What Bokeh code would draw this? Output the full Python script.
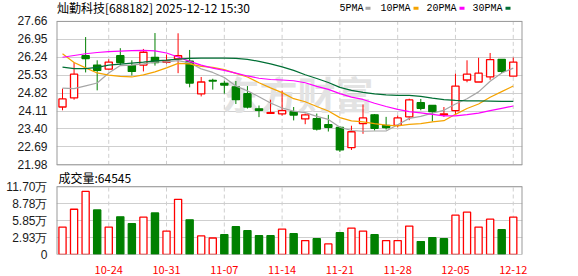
from bokeh.plotting import figure
from bokeh.models import (Range1d, LinearAxis, FixedTicker, Grid, Label,
                          BoxAnnotation, ColumnDataSource)
from bokeh.embed import file_html
from bokeh.resources import INLINE

# ---- daily data: 灿勤科技 (688182) ----
dates = ["10-20", "10-21", "10-22", "10-23", "10-24", "10-27", "10-28", "10-29", "10-30", "10-31",
         "11-03", "11-04", "11-05", "11-06", "11-07", "11-10", "11-11", "11-12", "11-13", "11-14",
         "11-17", "11-18", "11-19", "11-20", "11-21", "11-24", "11-25", "11-26", "11-27", "11-28",
         "12-01", "12-02", "12-03", "12-04", "12-05", "12-08", "12-09", "12-10", "12-11", "12-12"]

opens = [24.27, 24.63, 26.30, 25.93, 25.77, 26.30, 25.91, 25.93, 26.24, 26.04,
         26.18, 26.09, 24.79, 25.32, 25.21, 25.07, 24.80, 24.20, 24.02, 24.00,
         24.08, 23.80, 23.81, 23.57, 23.46, 22.66, 23.61, 23.96, 23.54, 23.54,
         23.88, 24.44, 24.33, 23.96, 24.13, 25.34, 25.26, 25.46, 26.16, 25.49]
closes = [24.59, 25.57, 26.19, 25.72, 26.05, 26.03, 25.68, 26.44, 26.03, 26.10,
          26.30, 25.22, 25.26, 25.30, 25.14, 24.56, 24.27, 24.14, 24.05, 24.13,
          23.95, 23.96, 23.40, 23.47, 22.57, 23.29, 23.84, 23.43, 23.46, 23.84,
          24.55, 24.22, 24.09, 24.00, 25.10, 25.57, 25.61, 26.15, 25.68, 26.05]
highs = [25.00, 26.03, 27.04, 26.12, 26.16, 26.60, 26.12, 26.57, 27.20, 26.35,
         27.19, 26.53, 25.46, 25.39, 25.31, 25.30, 25.10, 24.33, 24.56, 24.92,
         24.27, 24.01, 24.01, 23.96, 23.50, 23.53, 24.37, 23.99, 23.88, 23.93,
         24.60, 24.59, 24.33, 24.27, 25.59, 26.12, 26.22, 26.41, 26.16, 26.23]
lows = [24.14, 24.56, 25.64, 24.93, 25.74, 25.94, 25.52, 25.68, 25.91, 25.99,
        25.61, 25.05, 24.69, 24.96, 24.80, 24.39, 24.21, 23.87, 24.02, 23.93,
        23.74, 23.59, 23.34, 23.30, 22.49, 22.57, 23.21, 23.34, 23.38, 23.47,
        23.75, 24.14, 23.70, 23.88, 23.99, 25.25, 25.26, 25.35, 25.61, 25.49]

ma5 = [25.02, 25.00, 25.11, 25.22, 25.62, 25.91, 25.93, 25.98, 26.05, 26.06,
       26.11, 26.02, 25.78, 25.64, 25.44, 25.10, 24.91, 24.68, 24.43, 24.23,
       24.11, 24.05, 23.90, 23.78, 23.47, 23.34, 23.31, 23.32, 23.32, 23.57,
       23.82, 23.90, 24.03, 24.14, 24.39, 24.60, 24.87, 25.29, 25.62, 25.81]
ma10 = [26.38, 26.03, 25.82, 25.62, 25.53, 25.48, 25.46, 25.54, 25.66, 25.82,
        26.00, 25.98, 25.88, 25.84, 25.75, 25.60, 25.46, 25.23, 25.03, 24.84,
        24.60, 24.48, 24.29, 24.11, 23.85, 23.72, 23.68, 23.61, 23.55, 23.52,
        23.58, 23.61, 23.68, 23.73, 23.98, 24.21, 24.39, 24.66, 24.88, 25.10]
ma20 = [26.24, 26.31, 26.38, 26.43, 26.46, 26.48, 26.50, 26.51, 26.49, 26.41,
        26.25, 26.08, 25.93, 25.81, 25.72, 25.61, 25.50, 25.41, 25.36, 25.34,
        25.31, 25.23, 25.09, 24.97, 24.80, 24.66, 24.57, 24.42, 24.29, 24.18,
        24.09, 24.04, 23.98, 23.92, 23.92, 23.97, 24.03, 24.13, 24.22, 24.31]
ma30 = [25.85, 25.79, 25.79, 25.84, 25.93, 25.97, 26.01, 26.05, 26.10, 26.13,
        26.17, 26.20, 26.21, 26.21, 26.21, 26.20, 26.16, 26.08, 25.98, 25.86,
        25.72, 25.55, 25.40, 25.24, 25.05, 24.93, 24.85, 24.79, 24.75, 24.73,
        24.73, 24.69, 24.62, 24.56, 24.53, 24.51, 24.51, 24.50, 24.49, 24.49]

volumes = [47400, 78200, 109000, 77000, 47400, 65100, 53100, 64500, 71900, 40500,
           95300, 59900, 32000, 28500, 34200, 47900, 41100, 32500, 32500, 43900,
           36000, 24000, 27400, 18300, 37700, 45700, 40500, 34200, 24000, 24000,
           49100, 22300, 29100, 27400, 67900, 73100, 47400, 61100, 42800, 64545]

price_tick_labels = ["21.98", "22.69", "23.40", "24.11", "24.82", "25.53", "26.24", "26.95", "27.66"]
vol_tick_labels = ["0", "2.93万", "5.85万", "8.78万", "11.70万"]
vol_axis_max = 117000
date_tick_labels = ["10-24", "10-31", "11-07", "11-14", "11-21", "11-28", "12-05", "12-12"]

ma_names = ["5PMA", "10PMA", "20PMA", "30PMA"]

# ---- styling ----
RED = "#ff0000"
GREEN = "#008000"
MA_COLORS = ["#a6a6a6", "#f5a300", "#ff00ff", "#006f35"]
GRID = "#cfcfcf"
FRAME = "#999999"
LATIN = "Liberation Sans"
CJK = "Noto Sans CJK SC"
MONO = "Liberation Mono"

# ---- panel geometry (pixels from the top of the plotting frame) ----
FRAME_H = 255
PRICE_TOP, PRICE_BOTTOM = 21, 165
VOL_TOP, VOL_BOTTOM = 187, 255

n = len(dates)
xs = list(range(n))
up = [c >= o for o, c in zip(opens, closes)]
vol_up = [up[0]] + [closes[i] >= closes[i - 1] for i in range(1, n)]

price_ticks = [float(t) for t in price_tick_labels]
vol_ticks = [vol_axis_max * k / (len(vol_tick_labels) - 1) for k in range(len(vol_tick_labels))]
date_ticks = [dates.index(d) for d in date_tick_labels]

# the price scale fills the whole frame; the volume scale shares the frame
p_lo, p_hi = price_ticks[0], price_ticks[-1]
ppx = (PRICE_BOTTOM - PRICE_TOP) / (p_hi - p_lo)
y_start = p_lo - (FRAME_H - PRICE_BOTTOM) / ppx
y_end = p_hi + PRICE_TOP / ppx
vpx = vol_axis_max / (VOL_BOTTOM - VOL_TOP)
vol_end = vol_axis_max + VOL_TOP * vpx

x_start, x_end = -0.52, n - 0.2

p = figure(width=578, height=276,
           x_range=Range1d(x_start, x_end), y_range=Range1d(y_start, y_end),
           output_backend="svg", toolbar_location=None,
           x_axis_location=None, y_axis_location=None,
           min_border_left=56, min_border_right=56, min_border_top=0, min_border_bottom=21,
           background_fill_color="white", border_fill_color="white",
           outline_line_color=None)
p.extra_y_ranges = {"vol": Range1d(0, vol_end)}
p.center = [r for r in p.center if not isinstance(r, Grid)]


def vol_to_price_coord(v):
    return y_start + v / vol_end * (y_end - y_start)


# one left axis carries both the price and the volume labels
left_ticks = price_ticks + [vol_to_price_coord(v) for v in vol_ticks]
left_labels = price_tick_labels + vol_tick_labels
p.add_layout(LinearAxis(ticker=FixedTicker(ticks=left_ticks),
                        major_label_overrides={t: s for t, s in zip(left_ticks, left_labels)},
                        axis_line_color=None, major_tick_line_color=None,
                        minor_tick_line_color=None, major_label_standoff=3,
                        major_label_text_font=LATIN, major_label_text_font_size="12px",
                        major_label_text_color="#1a1a1a"), "left")
p.add_layout(LinearAxis(ticker=FixedTicker(ticks=date_ticks),
                        major_label_overrides={i: dates[i] for i in date_ticks},
                        axis_line_color=None, major_tick_line_color=None,
                        minor_tick_line_color=None, major_label_standoff=5,
                        major_label_text_font=CJK, major_label_text_font_size="11px",
                        major_label_text_color=RED), "below")

# horizontal grid lines of both panels
p.add_layout(Grid(dimension=1, ticker=FixedTicker(ticks=price_ticks),
                  grid_line_color=GRID, grid_line_width=1))
p.add_layout(Grid(dimension=1, ticker=FixedTicker(ticks=vol_ticks), y_range_name="vol",
                  grid_line_color=GRID, grid_line_width=1))

# watermark
p.add_layout(Label(x=241, y=FRAME_H - 93, x_units="screen", y_units="screen", text="东方财富",
                   text_font=CJK, text_font_size="38px", text_font_style="bold",
                   text_color="#e3e3e3", text_align="center", text_baseline="middle",
                   level="underlay"))

# weekly dashed separators, limited to each panel
p.segment(x0=date_ticks, y0=[p_lo] * len(date_ticks), x1=date_ticks, y1=[p_hi] * len(date_ticks),
          line_color=GRID, line_width=1, line_dash="4 3")
p.segment(x0=date_ticks, y0=[0] * len(date_ticks), x1=date_ticks,
          y1=[vol_axis_max] * len(date_ticks), y_range_name="vol",
          line_color=GRID, line_width=1, line_dash="4 3")

# candlesticks
candles = ColumnDataSource(dict(
    x=xs, high=highs, low=lows,
    top=[max(o, c) for o, c in zip(opens, closes)],
    bottom=[min(o, c) for o, c in zip(opens, closes)],
    line=[RED if u else GREEN for u in up],
    fill=["white" if u else GREEN for u in up],
))
p.segment(x0="x", y0="high", x1="x", y1="low", line_color="line", line_width=1, source=candles)
p.vbar(x="x", width=0.62, top="top", bottom="bottom", fill_color="fill",
       line_color="line", line_width=1.3, source=candles)

for series, color in zip([ma5, ma10, ma20, ma30], MA_COLORS):
    p.line(xs, series, line_color=color, line_width=1.2)

# volume bars
vols = ColumnDataSource(dict(
    x=xs, vol=volumes,
    line=[RED if u else GREEN for u in vol_up],
    fill=["white" if u else GREEN for u in vol_up],
))
p.vbar(x="x", width=0.62, top="vol", bottom=0, fill_color="fill", y_range_name="vol",
       line_color="line", line_width=1.3, source=vols)

# panel borders (the side edges sit on the frame edge, so they are drawn wider)
p.segment(x0=[x_start, x_start], y0=[p_lo, p_hi], x1=[x_end, x_end], y1=[p_lo, p_hi],
          line_color=FRAME, line_width=1)
p.segment(x0=[x_start, x_end], y0=[p_lo, p_lo], x1=[x_start, x_end], y1=[p_hi, p_hi],
          line_color=FRAME, line_width=2)
p.segment(x0=[x_start, x_start], y0=[0, vol_axis_max], x1=[x_end, x_end],
          y1=[0, vol_axis_max], y_range_name="vol", line_color=FRAME, line_width=1)
p.segment(x0=[x_start, x_end], y0=[0, 0], x1=[x_start, x_end],
          y1=[vol_axis_max, vol_axis_max], y_range_name="vol", line_color=FRAME, line_width=2)

# header: title and moving-average key
p.add_layout(Label(x=0.5, y=FRAME_H - 7.5, x_units="screen", y_units="screen",
                   text="灿勤科技[688182] 2025-12-12 15:30", text_font=CJK,
                   text_font_size="12px", text_color="#000000", text_baseline="middle"))
key_text_x = [283, 324, 370, 416]
key_box_x = [309, 357, 403, 449]
for name, color, tx, bx in zip(ma_names, MA_COLORS, key_text_x, key_box_x):
    p.add_layout(Label(x=tx, y=FRAME_H - 9, x_units="screen", y_units="screen",
                       text=name, text_font=MONO, text_font_size="10px",
                       text_color="#000000", text_baseline="middle"))
    p.add_layout(BoxAnnotation(left=bx, right=bx + 5, top=FRAME_H - 7.3,
                               bottom=FRAME_H - 10.3, left_units="screen",
                               right_units="screen", top_units="screen",
                               bottom_units="screen", fill_color=color, fill_alpha=1,
                               line_color=None, level="overlay"))

# volume caption
p.add_layout(Label(x=2, y=FRAME_H - 177.7, x_units="screen", y_units="screen",
                   text=f"成交量:{volumes[-1]}", text_font=CJK, text_font_size="12px",
                   text_color="#000000", text_baseline="middle"))

open("out.html", "w").write(file_html(p, INLINE))
